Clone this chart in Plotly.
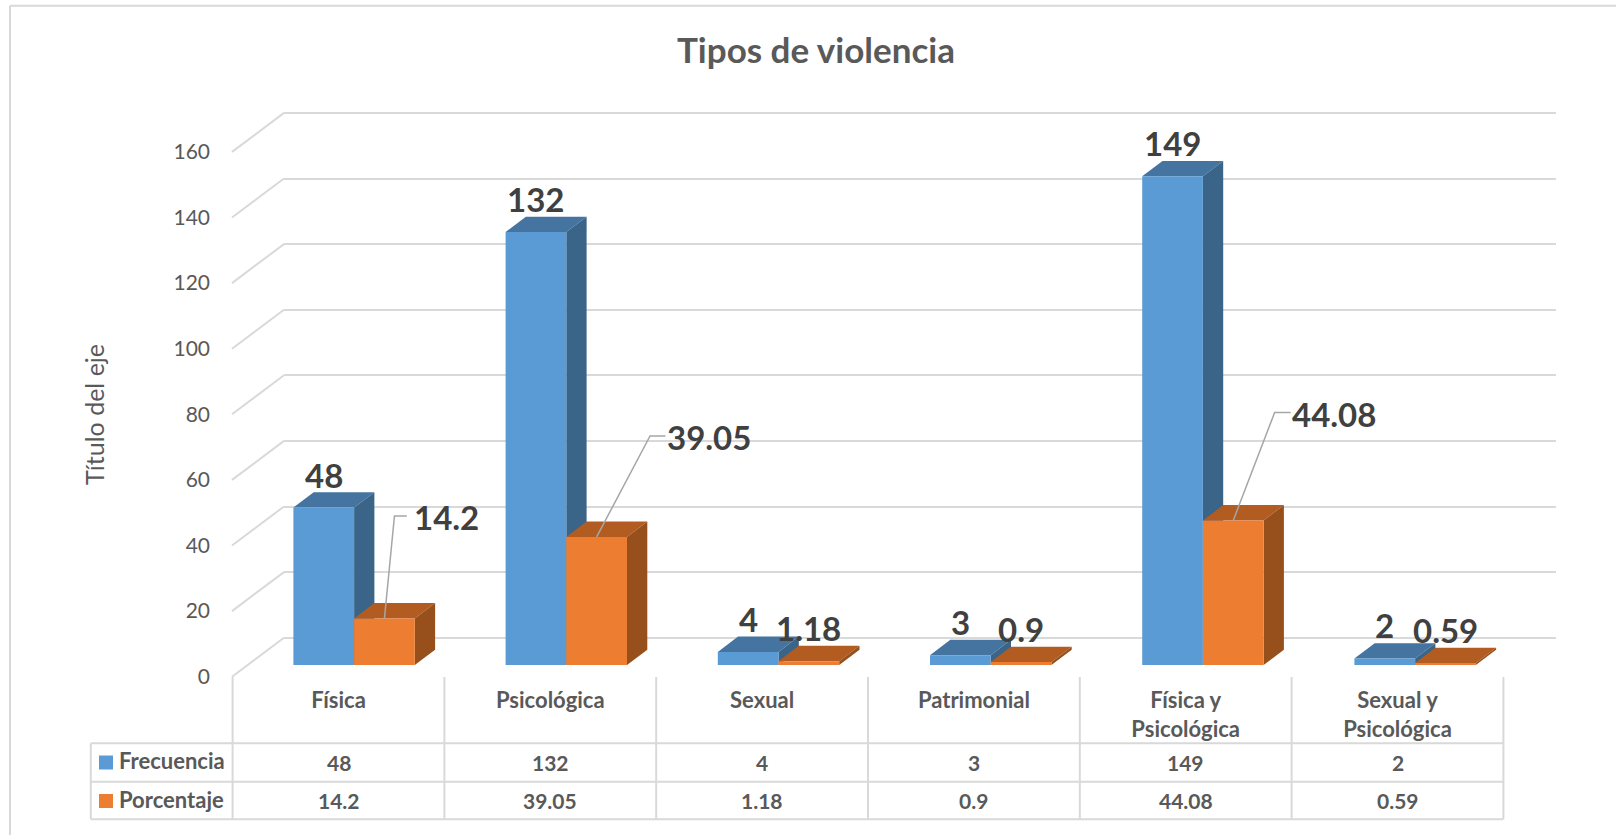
import plotly.graph_objects as go

# ---- data ----
categories = ["Física", "Psicológica", "Sexual", "Patrimonial", "Física y<br>Psicológica", "Sexual y<br>Psicológica"]
frecuencia = [48, 132, 4, 3, 149, 2]
porcentaje = [14.2, 39.05, 1.18, 0.9, 44.08, 0.59]
frecuencia_text = ["48", "132", "4", "3", "149", "2"]
porcentaje_text = ["14.2", "39.05", "1.18", "0.9", "44.08", "0.59"]
axis_ticks = [0, 20, 40, 60, 80, 100, 120, 140, 160]

# ---- layout constants (pixels) ----
W, H = 1616, 835
CAT_W = 211.8
BAR_CAT_W = 212.2
TABLE_X0 = 232.6
BAR_X0 = TABLE_X0 + 15.4
BAR_W = 60.7
PX_PER_UNIT = 3.28
FRONT_Y0 = 665.0
LABEL_Y0 = 676.7
WALL_Y0 = 637.7
DEPTH_X, DEPTH_Y = 20.3, 15.3
GRID = "#D9D9D9"
TXT = "#595959"
LBL = "#404040"
FONT = "Lato"
BLUE, BLUE_TOP, BLUE_SIDE = "#5B9BD5", "#44749F", "#3A6488"
ORANGE, ORANGE_TOP, ORANGE_SIDE = "#ED7D31", "#B25C22", "#974F1C"
TITLE_LIFT = 6


def yrange(y0, lift=0):
    return [(y0 - (H - lift)) / PX_PER_UNIT, y0 / PX_PER_UNIT]


def xrange_(x0, cw):
    return [(0 - x0) / cw - 0.5, (W - x0) / cw - 0.5]


def px(i, off=0.0):
    return BAR_X0 + BAR_CAT_W * (i + 0.5) + off


def py(v):
    return FRONT_Y0 - PX_PER_UNIT * v


def to_x(p):
    return (p - BAR_X0) / BAR_CAT_W - 0.5


def to_y(p):
    return (FRONT_Y0 - p) / PX_PER_UNIT


fig = go.Figure()
xs = list(range(len(categories)))
# back wall subplot (drawn first so that bars sit over the gridlines)
fig.add_trace(go.Scatter(x=[0], y=[0], xaxis="x", yaxis="y", mode="markers",
                         marker=dict(opacity=0), showlegend=False, hoverinfo="skip"))
fig.add_trace(go.Bar(x=xs, y=frecuencia, name="Frecuencia", xaxis="x2", yaxis="y2", marker_color=BLUE,
                     marker_line_width=0, showlegend=False))
fig.add_trace(go.Bar(x=xs, y=porcentaje, name="Porcentaje", xaxis="x2", yaxis="y2", marker_color=ORANGE,
                     marker_line_width=0, showlegend=False))
# carrier for the labelled value axis and the category axis
fig.add_trace(go.Scatter(x=[0], y=[0], xaxis="x3", yaxis="y3", mode="markers",
                         marker=dict(opacity=0), showlegend=False, hoverinfo="skip"))

shapes = []


def poly(points, color):
    d = "M " + " L ".join(f"{to_x(a):.5f},{to_y(b):.5f}" for a, b in points) + " Z"
    shapes.append(dict(type="path", path=d, xref="x2", yref="y2", fillcolor=color,
                       line=dict(width=0), layer="below"))


for i in xs:
    for vals, off, ctop, cside in ((frecuencia, -BAR_W, BLUE_TOP, BLUE_SIDE),
                                   (porcentaje, 0.0, ORANGE_TOP, ORANGE_SIDE)):
        xl = px(i, off)
        xr = xl + BAR_W
        yt = py(vals[i])
        poly([(xl, yt), (xr, yt), (xr + DEPTH_X, yt - DEPTH_Y), (xl + DEPTH_X, yt - DEPTH_Y)], ctop)
        poly([(xr, yt), (xr + DEPTH_X, yt - DEPTH_Y), (xr + DEPTH_X, FRONT_Y0 - DEPTH_Y), (xr, FRONT_Y0)], cside)


def line(x0, y0, x1, y1, width=2, color=GRID, layer="below"):
    shapes.append(dict(type="line", xref="paper", yref="paper", x0=x0 / W, x1=x1 / W,
                       y0=1 - y0 / H, y1=1 - y1 / H, line=dict(color=color, width=width), layer=layer))


# slanted side wall lines
for t in axis_ticks:
    y = LABEL_Y0 - PX_PER_UNIT * t
    line(232, y, 284, y - 39)

# chart frame
line(10, 5.7, W, 5.7)
line(10, 5.7, 10, H)

# data-table rules
ROWS = [743.3, 781.7, 819.3]
for n in range(len(categories) + 1):
    xv = TABLE_X0 + CAT_W * n
    line(xv, 677, xv, ROWS[-1])
line(90.8, ROWS[0], 90.8, ROWS[-1])
for r in ROWS:
    line(90.8, r, TABLE_X0 + CAT_W * 6, r)

# legend keys inside the table
for yc, col in ((762.5, BLUE), (801, ORANGE)):
    shapes.append(dict(type="rect", xref="paper", yref="paper", x0=99 / W, x1=113 / W,
                       y0=1 - (yc + 7) / H, y1=1 - (yc - 7) / H, fillcolor=col, line=dict(width=0)))

# leader lines for the three displaced labels
leaders = {0: (10.0, 516.0, 12.4), 1: (53.4, 436.0, 15.4), 4: (41.4, 412.4, 16.0)}
for i, (dx, ye, run) in leaders.items():
    xa = px(i, BAR_W / 2)
    ya = py(porcentaje[i])
    d = f"M {to_x(xa):.5f},{to_y(ya):.5f} L {to_x(xa + dx):.5f},{to_y(ye):.5f} L {to_x(xa + dx + run):.5f},{to_y(ye):.5f}"
    shapes.append(dict(type="path", path=d, xref="x2", yref="y2", line=dict(color="#A6A6A6", width=1.5),
                       layer="above"))

ann = []


def label(text, xp, yp, size=33, color=LBL, bold=True, xanchor="center"):
    ann.append(dict(text=text, xref="paper", yref="paper", x=xp / W, y=1 - yp / H, showarrow=False,
                    xanchor=xanchor, yanchor="middle",
                    font=dict(family=FONT, size=size, color=color, weight=700 if bold else 400)))


# data labels, placed from each value
moved = {0: (62, 517.0), 1: (112, 437.0), 4: (101, 414.0)}
for i in xs:
    label(frecuencia_text[i], px(i, -BAR_W / 2), py(frecuencia[i]) - 33)
    if i in moved:
        label(porcentaje_text[i], px(i, BAR_W / 2) + moved[i][0], moved[i][1])
    else:
        label(porcentaje_text[i], px(i, BAR_W / 2), py(porcentaje[i]) - 33)

# table text
for i in xs:
    xc = TABLE_X0 + CAT_W * (i + 0.5)
    label(frecuencia_text[i], xc, 762, size=21, color=TXT)
    label(porcentaje_text[i], xc, 800.5, size=21, color=TXT)
label("Frecuencia", 116.5, 760.5, size=22, color=TXT, xanchor="left")
label("Porcentaje", 116.5, 799.5, size=22, color=TXT, xanchor="left")

hidden = dict(visible=False, showgrid=False, zeroline=False)
fig.update_layout(
    width=W, height=H, margin=dict(l=0, r=0, t=0, b=0), autosize=False,
    paper_bgcolor="white", plot_bgcolor="rgba(0,0,0,0)",
    barmode="group", bargap=1 - 2 * BAR_W / BAR_CAT_W, bargroupgap=0,
    showlegend=False, hovermode=False,
    title=dict(text="Tipos de violencia", x=816 / W, y=1 - 50.5 / H, xanchor="center", yanchor="middle",
               font=dict(family=FONT, size=35, color=TXT, weight=700)),
    # back wall gridlines
    xaxis=dict(domain=[284 / W, 1556 / W], range=[0, 1], **hidden),
    yaxis=dict(domain=[0, 1], range=yrange(WALL_Y0), tickvals=axis_ticks, showgrid=True, gridcolor=GRID,
               gridwidth=2, zeroline=False, showticklabels=False, ticks="", showline=False, fixedrange=True),
    # bars
    xaxis2=dict(domain=[0, 1], range=xrange_(BAR_X0, BAR_CAT_W), anchor="y2", **hidden),
    yaxis2=dict(domain=[0, 1], range=yrange(FRONT_Y0), anchor="x2", **hidden),
    # category labels + value labels (front plane)
    xaxis3=dict(domain=[0, 1], range=xrange_(TABLE_X0, CAT_W), anchor="free", position=1 - 685 / H, side="bottom",
                tickvals=xs, ticktext=categories, showgrid=False, zeroline=False, showline=False,
                ticks="", tickfont=dict(family=FONT, size=22, color=TXT, weight=700)),
    yaxis3=dict(domain=[TITLE_LIFT / H, 1], range=yrange(LABEL_Y0, TITLE_LIFT), anchor="free", position=232 / W,
                side="left", tickvals=axis_ticks, showgrid=False, zeroline=False, showline=False,
                ticks="", ticklabelstandoff=22, tickfont=dict(family=FONT, size=21, color=TXT),
                title=dict(text="Título del eje", standoff=60, font=dict(family=FONT, size=25, color=TXT))),
    shapes=shapes, annotations=ann,
    font=dict(family=FONT),
)

fig.write_html("out.html", config=dict(displayModeBar=False),
               post_script="document.body.style.margin='0';document.body.style.overflow='hidden';")
